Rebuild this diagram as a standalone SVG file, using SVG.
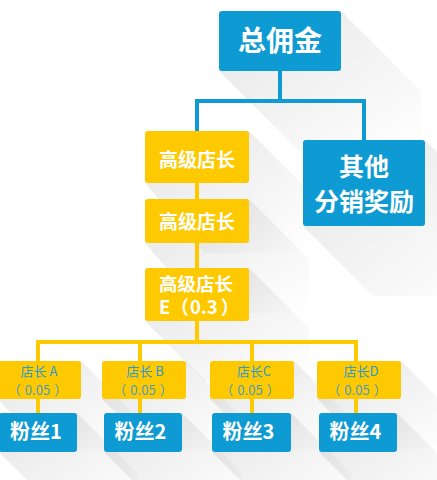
<svg xmlns="http://www.w3.org/2000/svg" width="437" height="480" viewBox="0 0 437 480">
<defs>
<linearGradient id="sh" x1="0.25" y1="0.25" x2="1" y2="1">
<stop offset="0" stop-color="#000" stop-opacity="0.075"/>
<stop offset="1" stop-color="#000" stop-opacity="0"/>
</linearGradient>
</defs>
<style>
.blue{fill:#0E9AD3}
.yel{fill:#FFC900}
.bl{stroke:#0E9AD3;stroke-width:4;fill:none}
.yl{stroke:#FFC900;stroke-width:4;fill:none}
.shadow{fill:url(#sh)}
text{font-family:"Noto Sans CJK SC","Microsoft YaHei",sans-serif;text-anchor:middle}
.wt{fill:#fff;font-weight:bold}
.sm{font-size:13px;fill:#2A9BD3}
.sm2{font-size:13px;fill:#4A9CC6}
</style>
<rect width="437" height="480" fill="#fff"/>
<g id="shadows">
<polygon class="shadow" points="341,11 421,91 421,151 299,151 219,71"/>
<polygon class="shadow" points="425,140 495,210 495,296 373,296 303,226"/>
<polygon class="shadow" points="249,131 309,191 309,253 205,253 145,183"/>
<polygon class="shadow" points="249,199 309,259 309,313 205,313 145,243"/>
<polygon class="shadow" points="249,268 309,328 309,381 205,381 145,321"/>
<polygon class="shadow" points="81,361 131,411 131,449 47,449 -3,399"/>
<polygon class="shadow" points="186,361 236,411 236,449 152,449 102,399"/>
<polygon class="shadow" points="294,361 344,411 344,449 260,449 210,399"/>
<polygon class="shadow" points="401,361 451,411 451,449 367,449 317,399"/>
<polygon class="shadow" points="77,413 137,473 137,512 59,512 -1,452"/>
<polygon class="shadow" points="182,413 242,473 242,512 164,512 104,452"/>
<polygon class="shadow" points="291,413 351,473 351,512 272,512 212,452"/>
<polygon class="shadow" points="397,413 457,473 457,512 379,512 319,452"/>
</g>
<g id="connectors">
<path class="bl" d="M280,71 V101 M197,101 H364 M197,99 V131 M364,99 V140"/>
<path class="yl" d="M197,183 V199 M197,243 V268 M197,321 V342 M38,342 H356 M38,340 V413 M140,340 V413 M252,340 V413 M356,340 V413"/>
</g>
<g id="n-total"><rect class="blue" x="219" y="11" width="122" height="60" rx="3"/><text class="wt" x="280" y="51" font-size="28">总佣金</text></g>
<g id="n-other"><rect class="blue" x="303" y="140" width="122" height="86" rx="3"/><text class="wt" x="364" y="175.5" font-size="25">其他</text><text class="wt" x="364" y="211" font-size="25">分销奖励</text></g>
<g id="n-senior1"><rect class="yel" x="145" y="131" width="104" height="52" rx="3"/><text class="wt" x="197" y="167" font-size="19">高级店长</text></g>
<g id="n-senior2"><rect class="yel" x="145" y="199" width="104" height="44" rx="3"/><text class="wt" x="197" y="229" font-size="19">高级店长</text></g>
<g id="n-senior3"><rect class="yel" x="145" y="268" width="104" height="53" rx="3"/><text class="wt" x="159" y="291" font-size="18.5" style="text-anchor:start">高级店长</text><text class="wt" x="159" y="314" font-size="18.5" style="text-anchor:start">E（<tspan dx="1">0.3</tspan><tspan dx="3">）</tspan></text></g>
<g id="n-a"><rect class="yel" x="-3" y="361" width="84" height="38" rx="3"/><text class="sm" x="39" y="375.5">店长 A</text><text class="sm2" x="37.5" y="394.5">（<tspan dx="4">0.05</tspan><tspan dx="4">）</tspan></text></g>
<g id="n-b"><rect class="yel" x="102" y="361" width="84" height="38" rx="3"/><text class="sm" x="145" y="375.5">店长 B</text><text class="sm2" x="143" y="394.5">（<tspan dx="4">0.05</tspan><tspan dx="4">）</tspan></text></g>
<g id="n-c"><rect class="yel" x="210" y="361" width="84" height="38" rx="3"/><text class="sm" x="254" y="375.5">店长C</text><text class="sm2" x="250" y="394.5">（<tspan dx="4">0.05</tspan><tspan dx="4">）</tspan></text></g>
<g id="n-d"><rect class="yel" x="317" y="361" width="84" height="38" rx="3"/><text class="sm" x="361" y="375.5">店长D</text><text class="sm2" x="357" y="394.5">（<tspan dx="4">0.05</tspan><tspan dx="4">）</tspan></text></g>
<g id="n-f1"><rect class="blue" x="-1" y="413" width="78" height="39" rx="3"/><text class="wt" x="36" y="439" font-size="20">粉丝1</text></g>
<g id="n-f2"><rect class="blue" x="104" y="413" width="78" height="39" rx="3"/><text class="wt" x="140.5" y="439" font-size="20">粉丝2</text></g>
<g id="n-f3"><rect class="blue" x="212" y="413" width="79" height="39" rx="3"/><text class="wt" x="248.5" y="439" font-size="20">粉丝3</text></g>
<g id="n-f4"><rect class="blue" x="319" y="413" width="78" height="39" rx="3"/><text class="wt" x="355.5" y="439" font-size="20">粉丝4</text></g>
</svg>
